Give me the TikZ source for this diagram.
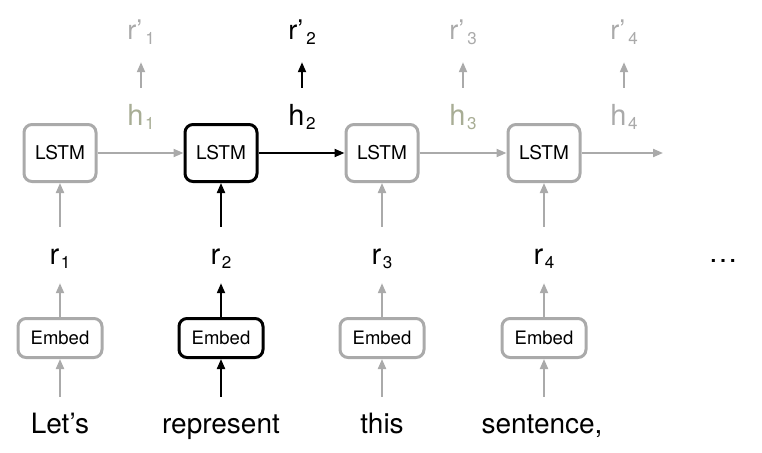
\documentclass[tikz,border=0pt]{standalone}
\usepackage{fontspec}
\setmainfont{TeX Gyre Heros}
\usetikzlibrary{arrows.meta}
\definecolor{lg}{HTML}{AAAAAA}
\definecolor{olv}{HTML}{A8AD95}
\newcommand{\sbl}[2]{#1\hspace{1.5pt}\raisebox{-4pt}{\fontsize{17}{17}\selectfont #2}}
\newcommand{\spl}[2]{#1’\hspace{3pt}\raisebox{-5pt}{\fontsize{17}{17}\selectfont #2}}
\begin{document}
\begin{tikzpicture}[x=1pt,y=-1pt,
  lstm/.style={draw=lg, line width=3pt, rounded corners=8pt, minimum width=72pt,
    minimum height=57pt, inner sep=0pt, font=\fontsize{19}{19}\selectfont},
  embed/.style={draw=lg, line width=3pt, rounded corners=8pt, minimum width=84pt,
    minimum height=39pt, inner sep=0pt, font=\fontsize{18.5}{18.5}\selectfont},
  hot/.style={draw=black},
  lab/.style={inner sep=0pt, anchor=base, font=\fontsize{29}{29}\selectfont},
  rlab/.style={lab, text height=37pt, text depth=19pt},
  hlab/.style={lab, text height=37pt, text depth=5pt},
  plab/.style={lab, font=\fontsize{27}{27}\selectfont, text height=22pt, text depth=22pt},
  wlab/.style={lab, font=\fontsize{28}{28}\selectfont, text height=36pt, text depth=6pt},
  ar/.style={-{Triangle[length=10pt,width=8pt]}, line width=2pt, draw=lg},
  arb/.style={ar, draw=black}]
\useasboundingbox (0,0) rectangle (762,452);
% LSTM row
\node[lstm] (L1) at (60,153) {LSTM};
\node[lstm,hot] (L2) at (221,153) {LSTM};
\node[lstm] (L3) at (382,153) {LSTM};
\node[lstm] (L4) at (544,153) {LSTM};
\coordinate (Lend) at (663,153);
% Embed row
\node[embed] (E1) at (60,338) {Embed};
\node[embed,hot] (E2) at (221,338) {Embed};
\node[embed] (E3) at (382,338) {Embed};
\node[embed] (E4) at (544,338) {Embed};
% r labels
\node[rlab] (r1) at (60,264) {\sbl{r}{1}};
\node[rlab] (r2) at (221,264) {\sbl{r}{2}};
\node[rlab] (r3) at (382,264) {\sbl{r}{3}};
\node[rlab] (r4) at (544,264) {\sbl{r}{4}};
\node[lab] (dots) at (723,262) {\ldots};
% h labels
\node[hlab,text=olv] (h1) at (141,125) {\sbl{h}{1}};
\node[hlab] (h2) at (302,125) {\sbl{h}{2}};
\node[hlab,text=olv] (h3) at (463,125) {\sbl{h}{3}};
\node[hlab,text=lg] (h4) at (624,125) {\sbl{h}{4}};
% r' labels
\node[plab,text=lg] (p1) at (141,40) {\spl{r}{1}};
\node[plab] (p2) at (302,40) {\spl{r}{2}};
\node[plab,text=lg] (p3) at (463,40) {\spl{r}{3}};
\node[plab,text=lg] (p4) at (624,40) {\spl{r}{4}};
% words
\node[wlab] (w1) at (60,433) {Let’s};
\node[wlab] (w2) at (221,433) {represent};
\node[wlab] (w3) at (382,433) {this};
\node[wlab] (w4) at (542,433) {sentence,};
% horizontal arrows
\draw[ar] (L1) -- (L2);
\draw[arb] (L2) -- (L3);
\draw[ar] (L3) -- (L4);
\draw[ar] (L4) -- (Lend);
% words to embed
\draw[ar] (w1.north -| E1.south) -- (E1.south);
\draw[arb] (w2.north -| E2.south) -- (E2.south);
\draw[ar] (w3.north -| E3.south) -- (E3.south);
\draw[ar] (w4.north -| E4.south) -- (E4.south);
% embed to r
\draw[ar] (E1) -- (r1);
\draw[arb] (E2) -- (r2);
\draw[ar] (E3) -- (r3);
\draw[ar] (E4) -- (r4);
% r to LSTM
\draw[ar] (r1) -- (L1);
\draw[arb] (r2) -- (L2);
\draw[ar] (r3) -- (L3);
\draw[ar] (r4) -- (L4);
% h to r'
\draw[ar] (h1) -- (p1);
\draw[arb] (h2) -- (p2);
\draw[ar] (h3) -- (p3);
\draw[ar] (h4) -- (p4);
\end{tikzpicture}
\end{document}
